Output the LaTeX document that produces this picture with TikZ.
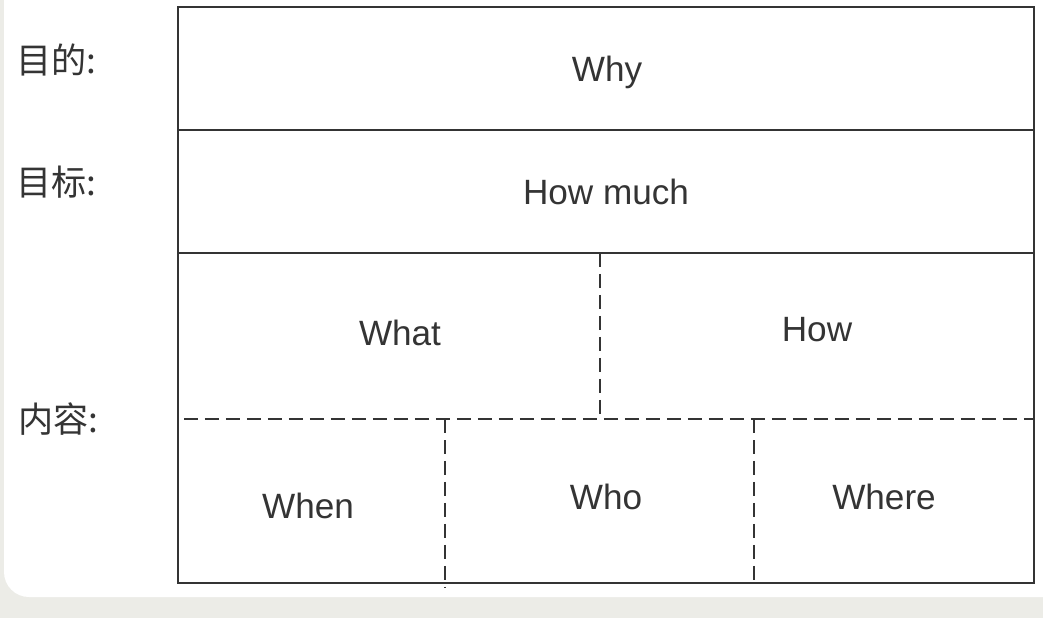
\documentclass[tikz,border=0pt]{standalone}
\usepackage{fontspec}
\setmainfont{Liberation Sans}
\newfontfamily\cjk{Noto Sans CJK SC}
\usetikzlibrary{positioning}
\definecolor{ink}{RGB}{52,52,52}
\definecolor{paper}{RGB}{236,236,231}

\begin{document}
\begin{tikzpicture}[
    x=0.02cm, y=-0.02cm,
    frame/.style={draw=ink, line width=1.4pt},
    cut/.style={draw=ink, line width=1.4pt, dash pattern=on 0.28cm off 0.14cm},
    cell/.style={text=ink, font=\fontsize{20}{24}\selectfont, anchor=base, inner sep=0pt},
    lbl/.style={text=ink, font=\cjk\fontsize{20}{24}\selectfont, anchor=base west, inner sep=0pt}
]
\useasboundingbox (0,0) rectangle (1043,618);
\clip (0,0) rectangle (1043,618);
\fill[paper] (0,0) rectangle (1043,618);
\fill[white, rounded corners=0.5cm] (4,-30) rectangle (1070,597);
% table
\draw[frame] (178,7) rectangle (1034,583);
\draw[frame] (178,130) -- (1034,130);
\draw[frame] (178,253) -- (1034,253);
\draw[cut] (184,419) -- (1034,419);
\draw[cut] (600,253) -- (600,419);
\draw[cut] (445,419) -- (445,587);
\draw[cut] (754,419) -- (754,583);
% cells
\node[cell] (why) at (607,82) {Why};
\node[cell] (howmuch) at (606,204) {How much};
\node[cell] (what) at (400,345) {What};
\node[cell] (how) at (817,341) {How};
\node[cell] (when) at (308,518) {When};
\node[cell] (who) at (606,509) {Who};
\node[cell] (where) at (884,509) {Where};
% left labels
\node[lbl] (purpose) at (16,74) {目的:};
\node[lbl] (goal) at (16,195) {目标:};
\node[lbl] (content) at (18,432) {内容:};
\end{tikzpicture}
\end{document}
